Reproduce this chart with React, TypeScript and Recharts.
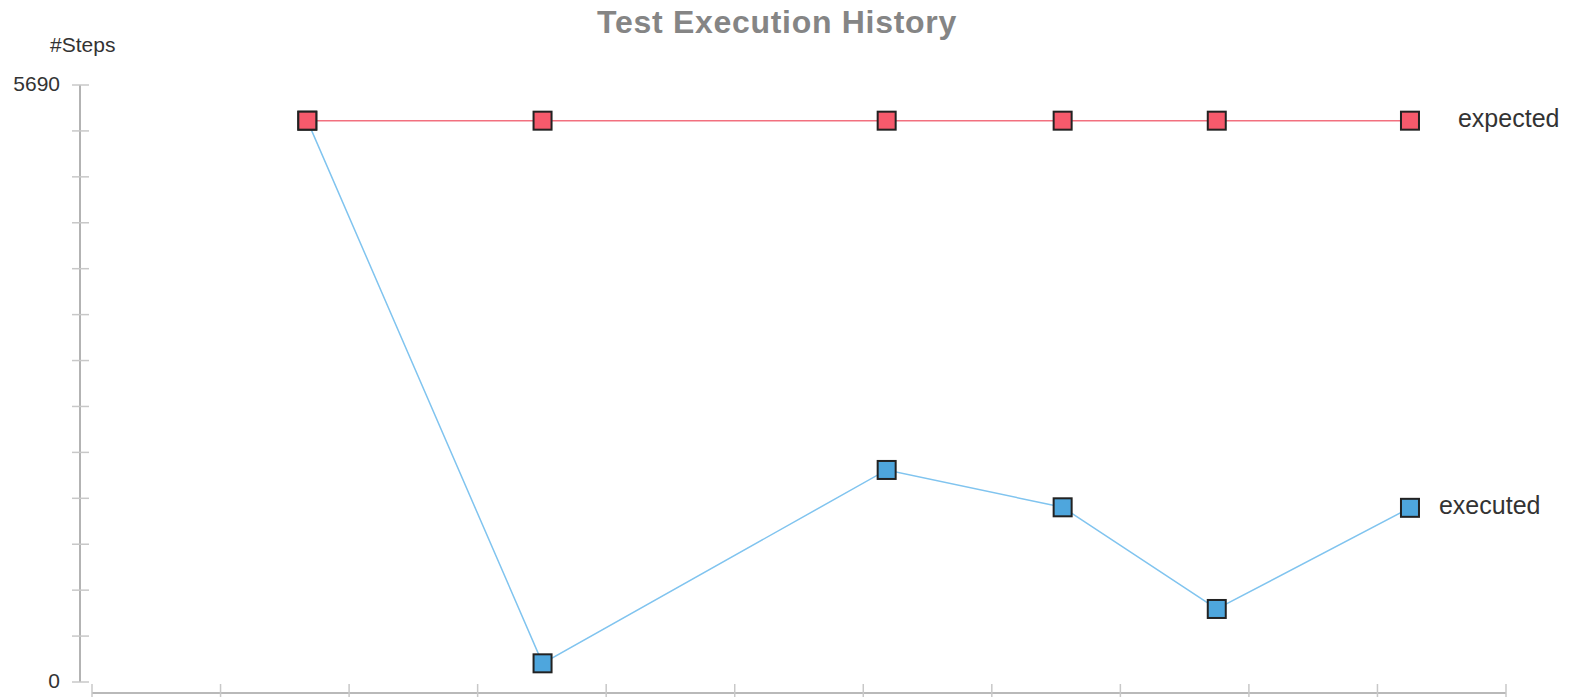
import React from 'react';
import { LineChart, Line, XAxis, YAxis } from 'recharts';

// run positions on the (unlabelled) time axis, one per execution
const runX = [1.675, 3.505, 6.182, 7.551, 8.75, 10.253];
const expectedSteps = [5350, 5350, 5350, 5350, 5350, 5350];
const executedSteps = [5350, 178, 2021, 1665, 696, 1660];

const xTicks = [0, 1, 2, 3, 4, 5, 6, 7, 8, 9, 10, 11];
const yTicks = [0, 437.7, 875.4, 1313.1, 1750.8, 2188.5, 2626.2, 3063.8, 3501.5, 3939.2, 4376.9, 4814.6, 5252.3, 5690];
const yLabels = [0, 5690];

const data = runX.map((x, i) => ({ x, expected: expectedSteps[i], executed: executedSteps[i] }));

const FONT = '"Liberation Sans", Arial, sans-serif';

const XTick = (props: any) => {
  const { x, y } = props;
  return <line x1={x} x2={x} y1={y - 9} y2={y + 4} stroke="#c8c8c8" strokeWidth={1.5} />;
};

const YTick = (props: any) => {
  const { x, y, payload } = props;
  const v = payload.value;
  return (
    <g>
      <line x1={x - 8} x2={x + 9} y1={y} y2={y} stroke="#c8c8c8" strokeWidth={1.5} />
      {yLabels.includes(v) && (
        <text x={x - 20} y={y - 1} dy="0.35em" textAnchor="end" fontSize={21} fontFamily={FONT} fill="#333">
          {v}
        </text>
      )}
    </g>
  );
};

const squareDot = (fill: string) => (props: any) => {
  const { cx, cy, index } = props;
  return (
    <rect key={`${fill}-${index}`} x={cx - 9} y={cy - 9} width={18} height={18}
          fill={fill} stroke="#222" strokeWidth={2} />
  );
};

const endLabel = (name: string, dx: number) => (props: any) => {
  const { x, y, index } = props;
  if (index !== data.length - 1) return null;
  return (
    <text key={name} x={x + dx} y={y + 6.5} fontSize={25} fontFamily={FONT} fill="#333">
      {name}
    </text>
  );
};

export default function App() {
  return (
    <div style={{ position: 'absolute', left: 0, top: 0, width: 1581, height: 698, background: '#fff' }}>
      <svg width={1581} height={60} style={{ position: 'absolute', left: 0, top: 0 }}>
        <text x={777} y={33} textAnchor="middle" fontSize={32} fontWeight="bold" letterSpacing={0.7}
              fontFamily={FONT} fill="#858585">
          Test Execution History
        </text>
        <text x={50} y={52} fontSize={21} fontFamily={FONT} fill="#333">#Steps</text>
      </svg>
      <div style={{ position: 'absolute', left: 0, top: 0 }}>
        <LineChart width={1581} height={698} data={data}
                   margin={{ top: 85, right: 75, bottom: 0, left: 0 }}>
          <XAxis dataKey="x" type="number" domain={[0, 11]} ticks={xTicks} interval={0}
                 padding={{ left: 12, right: 0 }} height={5}
                 tickLine={false} tickSize={0} tickMargin={0} tick={XTick}
                 axisLine={{ stroke: '#a3a3a3', strokeWidth: 1.5, strokeDasharray: '0 12 1414 100' }} />
          <YAxis type="number" domain={[0, 5690]} ticks={yTicks} interval={0} width={80}
                 padding={{ top: 0, bottom: 11 }}
                 tickLine={false} tickSize={0} tickMargin={0} tick={YTick}
                 axisLine={{ stroke: '#9a9a9a', strokeWidth: 1.5, strokeDasharray: '597 100' }} />
          <Line dataKey="executed" stroke="#80c4ef" strokeWidth={1.5}
                dot={squareDot('#4ea6dd')} activeDot={false}
                label={endLabel('executed', 29)} isAnimationActive={false} />
          <Line dataKey="expected" stroke="#f2707f" strokeWidth={1.5}
                dot={squareDot('#f65a6c')} activeDot={false}
                label={endLabel('expected', 48)} isAnimationActive={false} />
        </LineChart>
      </div>
    </div>
  );
}
